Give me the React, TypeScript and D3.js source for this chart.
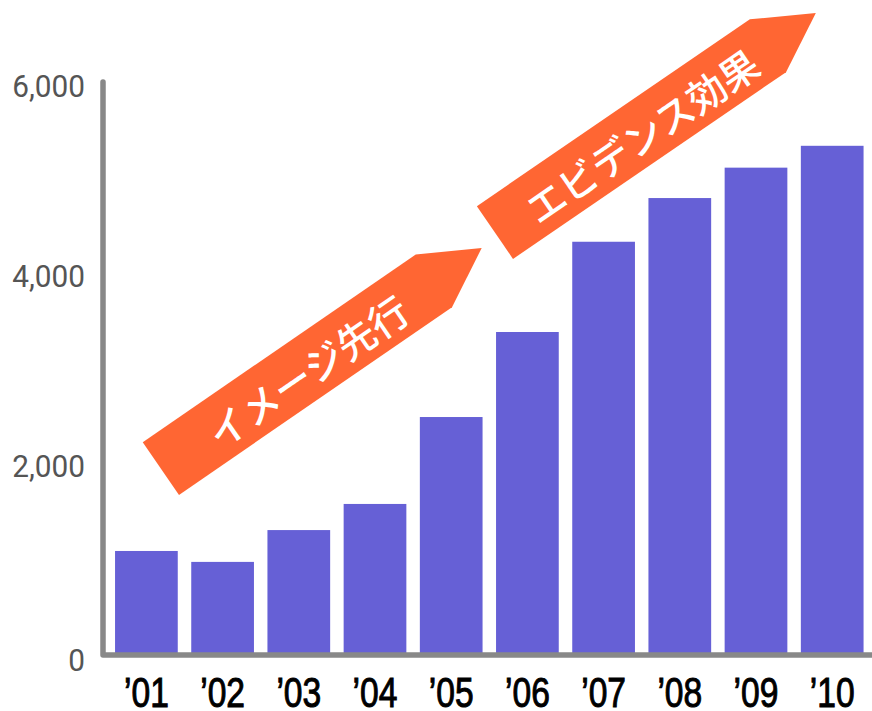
import React from "react";
import * as d3 from "d3";

const categories = ["’01", "’02", "’03", "’04", "’05", "’06", "’07", "’08", "’09", "’10"];
const values = [1095, 980, 1315, 1590, 2505, 3400, 4350, 4810, 5130, 5360];
const yTicks = [0, 2000, 4000, 6000];
// Annotation arrows: tail centre and tip in (category position, value) space
const arrowLabels = ["イメージ先行", "エビデンス効果"];
const arrowTailPos = [0.19, 4.574];
const arrowTailVal = [1963, 4447];
const arrowTipPos = [4.4, 8.785];
const arrowTipVal = [4284, 6758];

const W = 872;
const H = 711;
const BAR = "#6660d6";
const AXIS = "#888888";
const ARROW = "#ff6633";

export default function App() {
  const y = d3.scaleLinear().domain([0, 6000]).range([655, 85]);
  const x = d3
    .scaleBand<string>()
    .domain(categories)
    .range([108.3, 870.3])
    .paddingInner(0.177)
    .paddingOuter(0.0885);
  const bw = x.bandwidth();
  const step = x.step();
  const pos = (i: number) => (x(categories[0]) as number) + bw / 2 + i * step;

  const fmt = d3.format(",");

  const halfW = 32;
  const headLen = 58;

  return (
    <svg
      width={W}
      height={H}
      style={{ position: "absolute", left: 0, top: 0, display: "block" }}
    >
      <rect width={W} height={H} fill="#ffffff" />
      {categories.map((c, i) => (
        <rect
          key={c}
          x={x(c)}
          y={y(values[i])}
          width={bw}
          height={y(0) - y(values[i])}
          fill={BAR}
        />
      ))}
      <path
        d={`M${103},${y(6000) - 3} V${y(0)} H${W + 10}`}
        fill="none"
        stroke={AXIS}
        strokeWidth={5.5}
        strokeLinecap="round"
        strokeLinejoin="round"
      />
      {yTicks.map((t) => (
        <text
          key={t}
          transform={`translate(85,${y(t) + (t === 0 ? 16 : 12)}) scale(0.93,1)`}
          textAnchor="end"
          fontFamily="Roboto, sans-serif"
          fontSize={32}
          fill="#555555"
        >
          {fmt(t)}
        </text>
      ))}
      {categories.map((c) => (
        <text
          key={c}
          transform={`translate(${(x(c) as number) + bw / 2},${707}) scale(0.8,1)`}
          textAnchor="middle"
          fontFamily="'Liberation Sans', Arial, sans-serif"
          fontSize={42}
          fill="#000000"
          stroke="#000000"
          strokeWidth={1}
        >
          {c}
        </text>
      ))}
      {arrowLabels.map((lab, k) => {
        const tx = pos(arrowTailPos[k]);
        const ty = y(arrowTailVal[k]);
        const px = pos(arrowTipPos[k]);
        const py = y(arrowTipVal[k]);
        const len = Math.hypot(px - tx, py - ty);
        const ang = (Math.atan2(py - ty, px - tx) * 180) / Math.PI;
        const shaft = len - headLen;
        const pts = [
          [0, -halfW],
          [shaft, -halfW],
          [len, 0],
          [shaft, halfW],
          [0, halfW],
        ]
          .map((p) => p.join(","))
          .join(" ");
        return (
          <g key={lab} transform={`translate(${tx},${ty}) rotate(${ang})`}>
            <polygon points={pts} fill={ARROW} />
            <text
              x={176}
              y={2}
              textAnchor="middle"
              dominantBaseline="central"
              fontFamily="'Noto Sans CJK JP', sans-serif"
              fontSize={39}
              fontWeight={500}
              fill="#ffffff"
            >
              {lab}
            </text>
          </g>
        );
      })}
    </svg>
  );
}
